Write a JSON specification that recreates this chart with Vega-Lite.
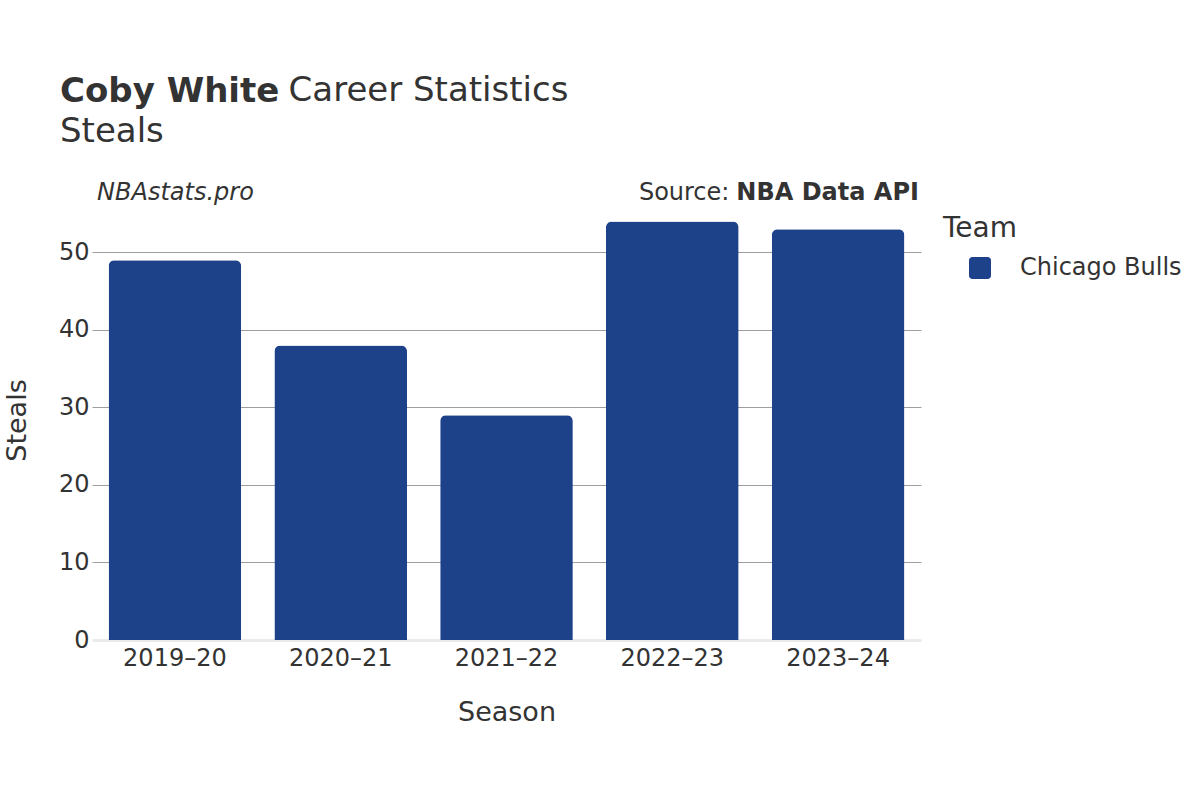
{
  "$schema": "https://vega.github.io/schema/vega-lite/v6.json",
  "width": 829,
  "height": 440,
  "autosize": {"type": "none"},
  "padding": {"left": 92, "top": 200, "right": 279, "bottom": 160},
  "background": "white",
  "title": {
    "text": "Coby White",
    "subtitle": "Steals",
    "anchor": "start",
    "frame": "group",
    "dx": -32,
    "offset": -75,
    "font": "DejaVu Sans",
    "fontSize": 34,
    "fontWeight": "bold",
    "color": "#333333",
    "subtitleFont": "DejaVu Sans",
    "subtitleFontSize": 34,
    "subtitleFontWeight": "normal",
    "subtitleColor": "#333333",
    "subtitlePadding": 6
  },
  "config": {
    "font": "DejaVu Sans",
    "view": {"stroke": null},
    "axis": {"labelColor": "#333333", "titleColor": "#333333", "titleFontWeight": "normal"}
  },
  "layer": [
    {
      "data": {
        "values": [
          {"Season": "2019–20", "Team": "Chicago Bulls", "Steals": 49},
          {"Season": "2020–21", "Team": "Chicago Bulls", "Steals": 38},
          {"Season": "2021–22", "Team": "Chicago Bulls", "Steals": 29},
          {"Season": "2022–23", "Team": "Chicago Bulls", "Steals": 54},
          {"Season": "2023–24", "Team": "Chicago Bulls", "Steals": 53}
        ]
      },
      "mark": {"type": "bar", "cornerRadiusTopLeft": 6, "cornerRadiusTopRight": 6},
      "encoding": {
        "x": {
          "field": "Season",
          "type": "nominal",
          "sort": null,
          "scale": {"paddingInner": 0.2, "paddingOuter": 0.1},
          "axis": {
            "title": "Season",
            "labelAngle": 0,
            "labelFontSize": 24,
            "labelPadding": 6,
            "ticks": false,
            "tickSize": 0,
            "domain": true,
            "domainColor": "#ebebeb",
            "domainWidth": 3,
            "titleFontSize": 27,
            "titlePadding": 29
          }
        },
        "y": {
          "field": "Steals",
          "type": "quantitative",
          "scale": {"domain": [0, 56.77], "nice": false},
          "axis": {
            "title": "Steals",
            "values": [0, 10, 20, 30, 40, 50],
            "labelFontSize": 24,
            "labelPadding": 3,
            "ticks": false,
            "tickSize": 0,
            "domain": false,
            "grid": true,
            "gridColor": {"condition": {"test": "datum.value === 0", "value": "transparent"}, "value": "#9e9e9e"},
            "gridWidth": 1,
            "titleFontSize": 27,
            "titlePadding": 27
          }
        },
        "color": {
          "field": "Team",
          "type": "nominal",
          "scale": {"range": ["#1d428a"]},
          "legend": {
            "title": "Team",
            "orient": "right",
            "offset": 7,
            "padding": 15,
            "symbolOffset": 25,
            "titleFontSize": 28,
            "titleFontWeight": "normal",
            "titleColor": "#333333",
            "titlePadding": 13,
            "labelFontSize": 24,
            "labelColor": "#333333",
            "labelOffset": 28,
            "labelLimit": 400,
            "symbolType": "M-0.7,-1H0.7A0.3,0.3 0 0 1 1,-0.7V0.7A0.3,0.3 0 0 1 0.7,1H-0.7A0.3,0.3 0 0 1 -1,0.7V-0.7A0.3,0.3 0 0 1 -0.7,-1Z",
            "symbolSize": 484,
            "symbolStrokeWidth": 0
          }
        }
      }
    },
    {
      "data": {"values": [{"label": "Career Statistics"}]},
      "mark": {"type": "text", "align": "left", "baseline": "alphabetic", "dx": 180, "dy": -99, "fontSize": 34, "color": "#333333"},
      "encoding": {
        "x": {"datum": "2019–20", "bandPosition": 0},
        "y": {"datum": 56.77},
        "text": {"field": "label"}
      }
    },
    {
      "data": {"values": [{"label": "NBAstats.pro"}]},
      "mark": {"type": "text", "align": "left", "baseline": "alphabetic", "dx": -11.5, "dy": 0, "fontSize": 24, "fontStyle": "italic", "color": "#333333"},
      "encoding": {
        "x": {"datum": "2019–20", "bandPosition": 0},
        "y": {"datum": 56.77},
        "text": {"field": "label"}
      }
    },
    {
      "data": {"values": [{"label": "Source:"}]},
      "mark": {"type": "text", "align": "right", "baseline": "alphabetic", "dx": -175, "dy": 0, "fontSize": 24, "color": "#333333"},
      "encoding": {
        "x": {"datum": "2023–24", "bandPosition": 1},
        "y": {"datum": 56.77},
        "text": {"field": "label"}
      }
    },
    {
      "data": {"values": [{"label": "NBA Data API"}]},
      "mark": {"type": "text", "align": "right", "baseline": "alphabetic", "dx": 14.5, "dy": 0, "fontSize": 24, "fontWeight": "bold", "color": "#333333"},
      "encoding": {
        "x": {"datum": "2023–24", "bandPosition": 1},
        "y": {"datum": 56.77},
        "text": {"field": "label"}
      }
    }
  ]
}
